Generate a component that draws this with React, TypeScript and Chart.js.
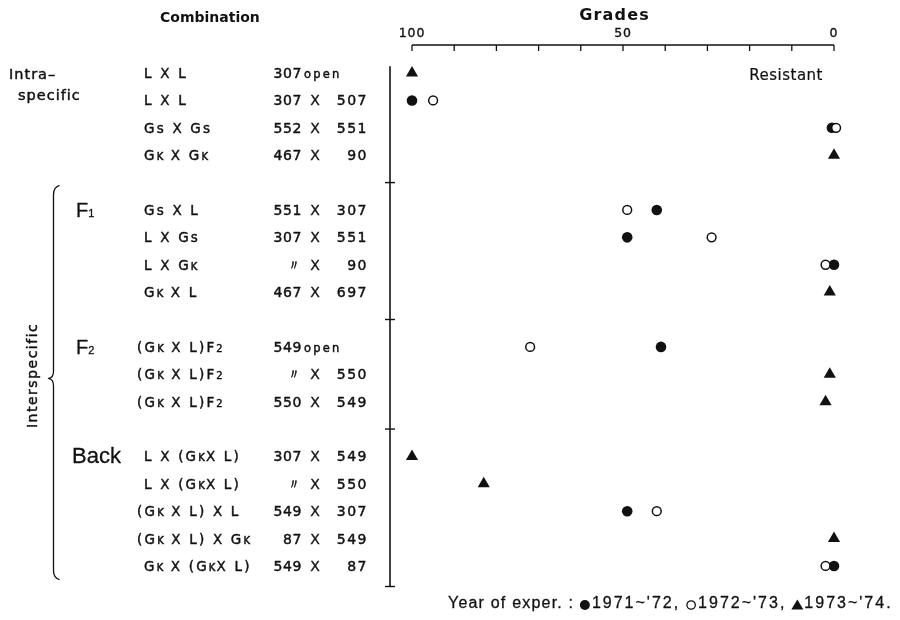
import { useEffect, useRef } from "react";
import { Chart, registerables } from "chart.js";

Chart.register(...registerables);

// Row groups (in drawing order, top to bottom)
const groupSizes = [4, 4, 3, 5];

// Combination of parents; "_X" = small letter, "_{..}" = small word
const combinations = [
  "L X L",
  "L X L",
  "Gs X Gs",
  "G_K X G_K",
  "Gs X L",
  "L X Gs",
  "L X G_K",
  "G_K X L",
  "(G_K X L)F_2",
  "(G_K X L)F_2",
  "(G_K X L)F_2",
  "L X (G_KX L)",
  "L X (G_KX L)",
  "(G_K X L) X L",
  "(G_K X L) X G_K",
  "G_K X (G_KX L)",
];

// Strain numbers: female / male parent
const crossFemale = [
  "307_{open}", "307", "552", "467",
  "551", "307", "〃", "467",
  "549_{open}", "〃", "550",
  "307", "〃", "549", "87", "549",
];
const crossMale = [
  "", "507", "551", "90",
  "307", "551", "90", "697",
  "", "550", "549",
  "549", "550", "307", "549", "87",
];

// Grades per row for each experiment year (null = not tested)
const grades1971 = [null, 100, 0.5, null, 42, 49, 0, null, 41, null, null, null, null, 49, null, 0];
const grades1972 = [null, 95, -0.5, null, 49, 29, 2, null, 72, null, null, null, null, 42, null, 2];
const grades1973 = [100, null, null, 0, null, null, null, 1, null, 1, 2, 100, 83, null, 0, null];

const gradeLabels = [100, 50, 0];
const gradeMinorStep = 10;
const yearLabels = ["1971~'72,", "1972~'73,", "1973~'74."];

const INK = "#111";
const SANS = "'DejaVu Sans', sans-serif";
const HELV = "'Liberation Sans', Arial, sans-serif";

// slot index of every row: one empty slot between groups
const rowSlots: number[] = [];
const groupFirstSlot: number[] = [];
const separatorSlots: number[] = [];
{
  let slot = 0;
  groupSizes.forEach((n, g) => {
    if (g > 0) {
      separatorSlots.push(slot);
      slot += 1;
    }
    groupFirstSlot.push(slot);
    for (let i = 0; i < n; i++) rowSlots.push(slot++);
  });
}
const lastSlot = rowSlots[rowSlots.length - 1];

function toPoints(values: (number | null)[]) {
  const pts: { x: number; y: number }[] = [];
  values.forEach((v, i) => {
    if (v !== null) pts.push({ x: v, y: rowSlots[i] });
  });
  return pts;
}

type Seg = { t: string; kind: "normal" | "sub" | "word" };
function parseRich(s: string): Seg[] {
  const out: Seg[] = [];
  let buf = "";
  let i = 0;
  while (i < s.length) {
    if (s[i] === "_") {
      if (buf) {
        out.push({ t: buf, kind: "normal" });
        buf = "";
      }
      if (s[i + 1] === "{") {
        const j = s.indexOf("}", i);
        out.push({ t: s.slice(i + 2, j), kind: "word" });
        i = j + 1;
      } else {
        out.push({ t: s[i + 1], kind: "sub" });
        i += 2;
      }
    } else {
      buf += s[i];
      i++;
    }
  }
  if (buf) out.push({ t: buf, kind: "normal" });
  return out;
}

function setFont(ctx: CanvasRenderingContext2D, size: number, family: string, spacing: number, weight = "normal") {
  ctx.font = `${weight} ${size}px ${family}`;
  (ctx as any).letterSpacing = `${spacing}px`;
}

// fill plus a thin outline, for the heavier pen lettering
function ink(ctx: CanvasRenderingContext2D, text: string, x: number, y: number, weight = 0.45) {
  ctx.fillText(text, x, y);
  if (weight > 0) {
    ctx.lineWidth = weight;
    ctx.strokeText(text, x, y);
  }
}

function segFont(ctx: CanvasRenderingContext2D, sg: Seg, size: number, family: string, spacing: number, subScale: number) {
  if (sg.kind === "sub") setFont(ctx, size * subScale, family, spacing * 0.5);
  else if (sg.kind === "word") setFont(ctx, size * 0.82, family, 2.2);
  else setFont(ctx, size, family, spacing);
}

function drawRich(
  ctx: CanvasRenderingContext2D,
  s: string,
  x: number,
  baseline: number,
  size: number,
  family: string,
  spacing: number,
  anchor: "left" | "firstRight" = "left",
  subScale = 0.7,
  weight = 0.45
) {
  const segs = parseRich(s);
  const widths = segs.map((sg) => {
    segFont(ctx, sg, size, family, spacing, subScale);
    return ctx.measureText(sg.t).width;
  });
  let cx = anchor === "left" ? x : x - widths[0];
  ctx.textAlign = "left";
  ctx.textBaseline = "alphabetic";
  segs.forEach((sg, k) => {
    segFont(ctx, sg, size, family, spacing, subScale);
    ink(ctx, sg.t, cx + (sg.kind === "word" ? 2 : 0), baseline, weight);
    cx += widths[k];
  });
}

const decorPlugin = {
  id: "decor",
  beforeDatasetsDraw(chart: any) {
    const ctx: CanvasRenderingContext2D = chart.ctx;
    const xs = chart.scales.x;
    const ys = chart.scales.y;
    const area = chart.chartArea;
    ctx.save();
    ctx.fillStyle = INK;
    ctx.strokeStyle = INK;
    ctx.lineCap = "butt";
    ctx.lineJoin = "round";

    // ---- top "Grades" axis
    const axisY = 45;
    const x100 = xs.getPixelForValue(100);
    const x0 = xs.getPixelForValue(0);
    ctx.lineWidth = 1.6;
    ctx.beginPath();
    ctx.moveTo(x100, axisY);
    ctx.lineTo(x0, axisY);
    ctx.stroke();
    ctx.lineWidth = 1.3;
    for (let g = 0; g <= 100; g += gradeMinorStep) {
      const px = xs.getPixelForValue(g);
      ctx.beginPath();
      ctx.moveTo(px, axisY);
      ctx.lineTo(px, axisY + 6);
      ctx.stroke();
    }
    setFont(ctx, 12.5, SANS, 0.8);
    ctx.textAlign = "center";
    ctx.textBaseline = "middle";
    gradeLabels.forEach((g) => ink(ctx, String(g), xs.getPixelForValue(g), 34, 0.35));
    setFont(ctx, 16, SANS, 1.2, "bold");
    ink(ctx, "Grades", xs.getPixelForValue(52), 16, 0);

    // ---- left vertical axis with group separators
    const axisX = area.left - 22;
    ctx.lineWidth = 1.6;
    ctx.beginPath();
    ctx.moveTo(axisX, area.top);
    ctx.lineTo(axisX, area.bottom);
    ctx.stroke();
    ctx.lineWidth = 1.4;
    [...separatorSlots.map((s) => ys.getPixelForValue(s)), area.bottom].forEach((py) => {
      ctx.beginPath();
      ctx.moveTo(axisX - 5, py);
      ctx.lineTo(axisX + 5, py);
      ctx.stroke();
    });

    // ---- headers
    setFont(ctx, 14, SANS, 0, "bold");
    ctx.textAlign = "left";
    ctx.textBaseline = "middle";
    ink(ctx, "Combination", 160, 18, 0);

    setFont(ctx, 15, SANS, 0.5);
    ctx.textAlign = "right";
    ink(ctx, "Resistant", 823, ys.getPixelForValue(rowSlots[0]) + 3, 0.2);

    // ---- row labels
    rowSlots.forEach((slot, i) => {
      const base = ys.getPixelForValue(slot) + 5;
      const combo = combinations[i];
      drawRich(ctx, combo, combo.startsWith("(") ? 137 : 144, base, 13.5, SANS, 2.2, "left", 0.74);
      drawRich(ctx, crossFemale[i], 302, base, 14, SANS, 0.6, "firstRight");
      if (crossMale[i]) {
        setFont(ctx, 14, SANS, 0);
        ctx.textAlign = "center";
        ctx.textBaseline = "alphabetic";
        ink(ctx, "X", 315, base, 0.35);
        setFont(ctx, 14, SANS, 1.5);
        ctx.textAlign = "right";
        ink(ctx, crossMale[i], 368, base);
      }
    });

    // ---- group labels
    const r0 = ys.getPixelForValue(rowSlots[0]);
    setFont(ctx, 14.5, SANS, 1);
    ctx.textAlign = "left";
    ctx.textBaseline = "alphabetic";
    ink(ctx, "Intra–", 9, r0 + 6);
    ink(ctx, "specific", 18, r0 + 27);

    drawRich(ctx, "F_1", 76, ys.getPixelForValue(groupFirstSlot[1]) + 7, 20, HELV, 0, "left", 0.55, 0.3);
    drawRich(ctx, "F_2", 76, ys.getPixelForValue(groupFirstSlot[2]) + 7, 20, HELV, 0, "left", 0.55, 0.3);
    setFont(ctx, 22, HELV, 0);
    ctx.textAlign = "left";
    ink(ctx, "Back", 72, ys.getPixelForValue(groupFirstSlot[3]) + 7, 0.3);

    // brace around the interspecific groups
    const bTop = ys.getPixelForValue(groupFirstSlot[1] - 0.9);
    const bBot = ys.getPixelForValue(lastSlot + 0.5);
    const bMid = ys.getPixelForValue(11.15);
    const bx = 53.5;
    ctx.lineWidth = 1.3;
    ctx.beginPath();
    ctx.moveTo(bx + 6, bTop);
    ctx.quadraticCurveTo(bx, bTop + 2, bx, bTop + 9);
    ctx.lineTo(bx, bMid - 7);
    ctx.quadraticCurveTo(bx, bMid - 1, bx - 5, bMid);
    ctx.quadraticCurveTo(bx, bMid + 1, bx, bMid + 7);
    ctx.lineTo(bx, bBot - 9);
    ctx.quadraticCurveTo(bx, bBot - 2, bx + 6, bBot);
    ctx.stroke();

    ctx.save();
    ctx.translate(33, bMid - 3);
    ctx.rotate(-Math.PI / 2);
    setFont(ctx, 14, SANS, 1.5);
    ctx.textAlign = "center";
    ctx.textBaseline = "middle";
    ink(ctx, "Interspecific", 0, 0);
    ctx.restore();

    // ---- key of experiment years
    const ly = 604;
    let lx = 448;
    setFont(ctx, 16, HELV, 1.2);
    ctx.textAlign = "left";
    ctx.textBaseline = "middle";
    const lead = "Year of exper. : ";
    ink(ctx, lead, lx, ly, 0.3);
    lx += ctx.measureText(lead).width;
    yearLabels.forEach((lab, k) => {
      const mx = lx + 5;
      ctx.lineWidth = 1.3;
      if (k === 0) {
        ctx.beginPath();
        ctx.arc(mx, ly + 1, 5, 0, Math.PI * 2);
        ctx.fill();
      } else if (k === 1) {
        ctx.beginPath();
        ctx.arc(mx, ly + 1, 4.2, 0, Math.PI * 2);
        ctx.stroke();
      } else {
        ctx.beginPath();
        ctx.moveTo(mx, ly - 4.5);
        ctx.lineTo(mx + 6, ly + 5.5);
        ctx.lineTo(mx - 6, ly + 5.5);
        ctx.closePath();
        ctx.fill();
      }
      lx += 12;
      setFont(ctx, 16, HELV, 2);
      ink(ctx, lab, lx, ly, 0.3);
      lx += ctx.measureText(lab).width + 6;
    });

    ctx.restore();
  },
};

export default function App() {
  const canvasRef = useRef<HTMLCanvasElement | null>(null);

  useEffect(() => {
    const canvas = canvasRef.current;
    if (!canvas) return;
    const chart = new Chart(canvas, {
      type: "scatter",
      data: {
        datasets: [
          {
            label: "1971–'72",
            data: toPoints(grades1971),
            pointStyle: "circle",
            pointRadius: 5.3,
            pointBackgroundColor: INK,
            pointBorderWidth: 0,
            order: 3,
            clip: false as any,
          },
          {
            label: "1972–'73",
            data: toPoints(grades1972),
            pointStyle: "circle",
            pointRadius: 4.4,
            pointBackgroundColor: "#fff",
            pointBorderColor: INK,
            pointBorderWidth: 1.5,
            order: 2,
            clip: false as any,
          },
          {
            label: "1973–'74",
            data: toPoints(grades1973),
            pointStyle: "triangle",
            pointRadius: 7,
            pointBackgroundColor: INK,
            pointBorderColor: INK,
            pointBorderWidth: 0,
            order: 1,
            clip: false as any,
          },
        ],
      },
      options: {
        animation: false,
        responsive: false,
        devicePixelRatio: 1,
        layout: { padding: { left: 412, right: 66, top: 66.2, bottom: 33.5 } },
        plugins: { legend: { display: false }, tooltip: { enabled: false } },
        events: [],
        scales: {
          x: { type: "linear", reverse: true, min: 0, max: 100, display: false },
          y: { type: "linear", reverse: true, min: -0.25, max: lastSlot + 0.75, display: false },
        },
      },
      plugins: [decorPlugin],
    });
    return () => chart.destroy();
  }, []);

  return (
    <div style={{ position: "fixed", left: 0, top: 0, width: 900, height: 620, background: "#fff" }}>
      <canvas ref={canvasRef} width={900} height={620} style={{ width: 900, height: 620 }} />
    </div>
  );
}
